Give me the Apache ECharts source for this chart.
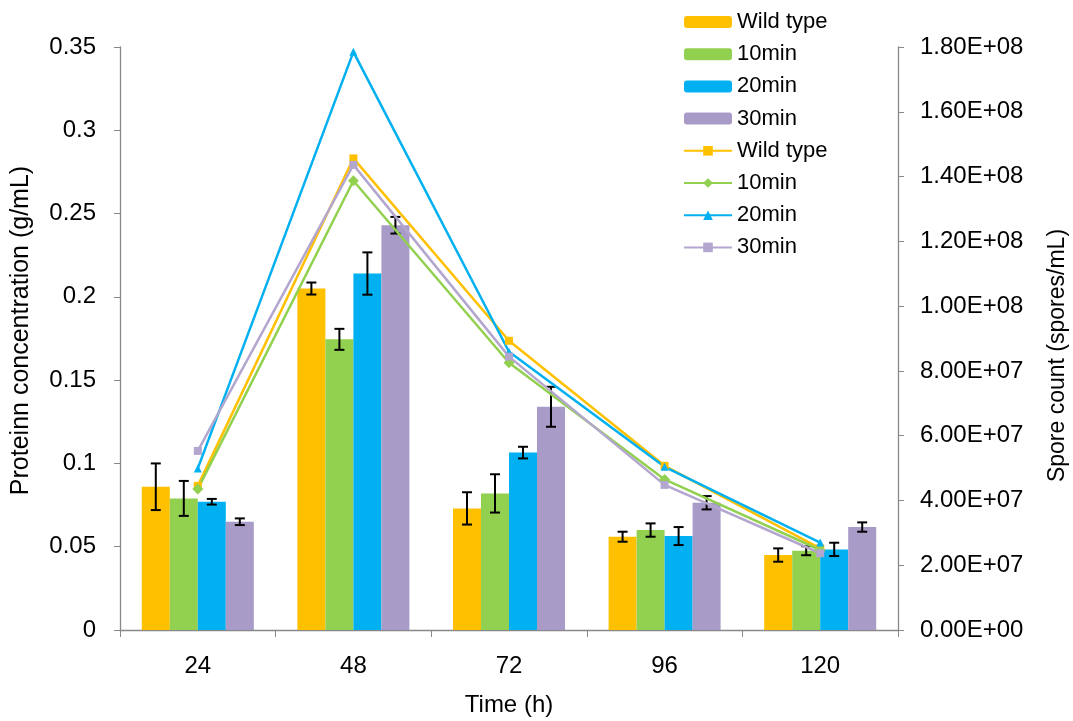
<!DOCTYPE html>
<html>
<head>
<meta charset="utf-8">
<script src="https://cdn.jsdelivr.net/npm/echarts@6/dist/echarts.min.js"></script>
<style>
html,body{margin:0;padding:0;background:#fff;}
#chart{width:1073px;height:721px;}
</style>
</head>
<body>
<div id="chart"></div>
<script>
const categories = ['24', '48', '72', '96', '120'];
const seriesNames = ['Wild type', '10min', '20min', '30min'];

// Protein concentration (g/mL) - bars
const proteinWild = [0.086, 0.205, 0.073, 0.056, 0.045];
const proteinWildErr = [0.014, 0.0036, 0.0097, 0.003, 0.004];
const protein10 = [0.079, 0.1745, 0.082, 0.060, 0.0476];
const protein10Err = [0.0105, 0.0063, 0.0115, 0.004, 0.0027];
const protein20 = [0.077, 0.214, 0.1065, 0.0564, 0.0484];
const protein20Err = [0.0017, 0.0127, 0.0035, 0.0054, 0.004];
const protein30 = [0.065, 0.243, 0.134, 0.0764, 0.0618];
const protein30Err = [0.002, 0.005, 0.012, 0.004, 0.0028];

// Spore count (spores/mL) - lines
const sporeWild = [4.45e7, 1.456e8, 8.93e7, 5.07e7, 2.52e7];
const spore10 = [4.35e7, 1.387e8, 8.25e7, 4.65e7, 2.47e7];
const spore20 = [4.99e7, 1.785e8, 8.59e7, 5.04e7, 2.70e7];
const spore30 = [5.53e7, 1.436e8, 8.44e7, 4.48e7, 2.37e7];

const leftTicks = {min: 0, max: 0.35, interval: 0.05};
const rightTicks = {min: 0, max: 1.8e8, interval: 2e7};

const barColors = ['#FFC000', '#92D050', '#00B0F0', '#A99BC8'];
const lineColors = ['#FFC000', '#92D050', '#00B0F0', '#B3A6CF'];
const lineSymbols = ['rect', 'diamond', 'triangle', 'rect'];
const lineSymbolSizes = [8, 11, 8, 8];

const proteinSets = [proteinWild, protein10, protein20, protein30];
const errSets = [proteinWildErr, protein10Err, protein20Err, protein30Err];
const sporeSets = [sporeWild, spore10, spore20, spore30];

const CAT_GAP = 0.28;
const FONT = '"Liberation Sans", Arial, sans-serif';

function sci(v) {
  if (v === 0) return '0.00E+00';
  const e = Math.floor(Math.log10(Math.abs(v)) + 1e-9);
  const m = v / Math.pow(10, e);
  return m.toFixed(2) + 'E' + (e >= 0 ? '+' : '-') + String(Math.abs(e)).padStart(2, '0');
}

const series = [];
seriesNames.forEach((n, k) => {
  series.push({
    name: n,
    type: 'bar',
    yAxisIndex: 0,
    data: proteinSets[k],
    itemStyle: {color: barColors[k]},
    barGap: '0%',
    barCategoryGap: (CAT_GAP * 100) + '%',
    z: 2
  });
});
seriesNames.forEach((n, k) => {
  series.push({
    name: 'err' + k,
    type: 'custom',
    yAxisIndex: 0,
    z: 3,
    silent: true,
    data: proteinSets[k].map((v, i) => [i, v, errSets[k][i]]),
    encode: {x: 0, y: 1},
    renderItem: function (params, api) {
      const idx = api.value(0), v = api.value(1), e = api.value(2);
      const c = api.coord([idx, v]);
      const catW = api.size([1, 0])[0];
      const groupW = catW * (1 - CAT_GAP);
      const barW = groupW / 4;
      const x = c[0] - groupW / 2 + (k + 0.5) * barW;
      const yTop = api.coord([idx, v + e])[1];
      const yBot = api.coord([idx, v - e])[1];
      const hw = 5;
      const st = {stroke: '#000', lineWidth: 2};
      return {
        type: 'group',
        children: [
          {type: 'line', shape: {x1: x, y1: yTop, x2: x, y2: yBot}, style: st},
          {type: 'line', shape: {x1: x - hw, y1: yTop, x2: x + hw, y2: yTop}, style: st},
          {type: 'line', shape: {x1: x - hw, y1: yBot, x2: x + hw, y2: yBot}, style: st}
        ]
      };
    }
  });
});
seriesNames.forEach((n, k) => {
  series.push({
    name: 'L:' + n,
    type: 'line',
    yAxisIndex: 1,
    data: sporeSets[k],
    symbol: lineSymbols[k],
    symbolSize: lineSymbolSizes[k],
    showAllSymbol: true,
    itemStyle: {color: lineColors[k]},
    lineStyle: {color: lineColors[k], width: 2.5},
    z: 4
  });
});

const chart = echarts.init(document.getElementById('chart'), null, {renderer: 'canvas'});
chart.setOption({
  animation: false,
  backgroundColor: '#ffffff',
  textStyle: {fontFamily: FONT},
  grid: {left: 120, right: 175, top: 47, bottom: 91, containLabel: false, outerBoundsMode: 'none'},
  legend: {
    orient: 'vertical',
    left: 683,
    top: 11,
    padding: 0,
    itemWidth: 48,
    itemHeight: 12,
    itemGap: 10.2,
    textStyle: {fontFamily: FONT, fontSize: 22, color: '#000', lineHeight: 20},
    formatter: function (name) { return name.replace('L:', ''); },
    data: seriesNames.concat(seriesNames.map(n => 'L:' + n))
  },
  xAxis: {
    type: 'category',
    data: categories,
    name: 'Time (h)',
    nameLocation: 'middle',
    nameGap: 63,
    nameTextStyle: {fontFamily: FONT, fontSize: 24, color: '#000'},
    axisLine: {lineStyle: {color: '#888', width: 1.3}},
    axisTick: {show: true, length: 7, lineStyle: {color: '#888'}},
    axisLabel: {fontFamily: FONT, fontSize: 24, color: '#000', margin: 24},
    splitLine: {show: false}
  },
  yAxis: [
    {
      type: 'value',
      position: 'left',
      min: leftTicks.min, max: leftTicks.max, interval: leftTicks.interval,
      name: 'Proteinn concentration (g/mL)',
      nameLocation: 'middle',
      nameGap: 86,
      nameRotate: 90,
      nameTextStyle: {fontFamily: FONT, fontSize: 25, color: '#000', padding: [0, 0, 0, 16]},
      axisLine: {show: true, lineStyle: {color: '#888', width: 1.3}},
      axisTick: {show: true, length: 6, lineStyle: {color: '#888'}},
      axisLabel: {fontFamily: FONT, fontSize: 24, color: '#000', margin: 24},
      splitLine: {show: false}
    },
    {
      type: 'value',
      position: 'right',
      min: rightTicks.min, max: rightTicks.max, interval: rightTicks.interval,
      name: 'Spore count (spores/mL)',
      nameLocation: 'middle',
      nameGap: 148,
      nameRotate: 90,
      nameTextStyle: {fontFamily: FONT, fontSize: 23, color: '#000', padding: [0, 34, 0, 0]},
      axisLine: {show: true, lineStyle: {color: '#888', width: 1.3}},
      axisTick: {show: true, length: 6, lineStyle: {color: '#888'}},
      axisLabel: {fontFamily: FONT, fontSize: 24, color: '#000', margin: 22, formatter: sci},
      splitLine: {show: false}
    }
  ],
  series: series
});
</script>
</body>
</html>
